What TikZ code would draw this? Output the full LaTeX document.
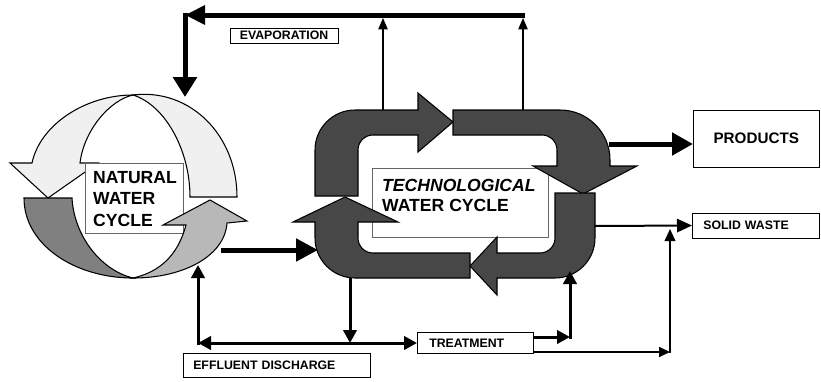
\documentclass[tikz,border=0pt]{standalone}
\usepackage{fontspec}
\setmainfont{Liberation Sans}
\usetikzlibrary{arrows.meta}

\begin{document}
\begin{tikzpicture}[yscale=-1, x=0.3mm, y=0.3mm,
  lbl/.style={draw, fill=white, line width=0.5pt, inner sep=0pt, font=\fontsize{10.5}{12}\selectfont\bfseries},
  cycletxt/.style={anchor=west, align=left, inner sep=0pt, font=\fontsize{15}{18.5}\selectfont\bfseries},
  textframe/.style={fill=white, draw=black!60, line width=0.5pt},
  band/.style={draw=black, line width=0.9pt},
  heavy/.style={line width=1.5mm},
  midline/.style={line width=0.9mm},
  hair/.style={line width=0.35mm},
  midtip/.style={-{Triangle[length=3.9mm,width=4mm]}},
  smalltip/.style={-{Triangle[length=3.4mm,width=2.8mm]}}]
\useasboundingbox (0,0) rectangle (821,381);

% natural water cycle
\draw[band, fill=black!6] (32,163) .. controls (40,125) and (85,95) .. (133,95)
  .. controls (110,100) and (84,130) .. (80,163) -- (98,163) -- (48,198) -- (10,163) -- cycle;
\draw[band, fill=black!6] (133,95) .. controls (190,88) and (237,135) .. (237,197)
  -- (190,197) .. controls (190,150) and (165,105) .. (133,95) -- cycle;
\draw[band, fill=black!50] (24,198) .. controls (24,245) and (75,278) .. (133,278)
  .. controls (100,270) and (74,235) .. (72,198) -- cycle;
\draw[textframe] (85,163) rectangle (183,233);
\node[cycletxt] (nat) at (93,199) {NATURAL\\WATER\\CYCLE};
\draw[band, fill=black!28] (133,278) .. controls (185,278) and (225,255) .. (227,223)
  -- (247,221) -- (210,200) -- (163,225) -- (186,225)
  .. controls (178,255) and (160,272) .. (133,278) -- cycle;

% technological water cycle
\draw[textframe] (372,168) rectangle (548,237);
\node[cycletxt, font=\fontsize{15}{17}\selectfont\bfseries] (tech) at (382,195) {\textit{TECHNOLOGICAL}\\WATER CYCLE};
\draw[band, fill=black!72] (315,196) -- (315,150) arc[start angle=180, end angle=270, radius=12mm]
  -- (418,110) -- (418,93) -- (453,122) -- (418,152) -- (418,135) -- (373,135)
  arc[start angle=270, end angle=180, radius=4.5mm] -- (358,196) -- cycle;
\draw[band, fill=black!72] (453,110) -- (560,110) arc[start angle=270, end angle=360, radius=15mm]
  -- (610,166) -- (637,166) -- (583,194) -- (533,166) -- (557,166) -- (557,150)
  arc[start angle=0, end angle=-90, radius=4.5mm] -- (453,135) -- cycle;
\draw[band, fill=black!72] (555,193) -- (595,193) -- (595,238) arc[start angle=0, end angle=90, radius=12mm]
  -- (497,278) -- (497,295) -- (470,266) -- (497,237) -- (497,253) -- (540,253)
  arc[start angle=90, end angle=0, radius=4.5mm] -- cycle;
\draw[band, fill=black!72] (470,278) -- (355,278) arc[start angle=90, end angle=180, radius=12mm]
  -- (315,222) -- (293,222) -- (345,197) -- (398,222) -- (358,222) -- (358,238)
  arc[start angle=180, end angle=90, radius=4.5mm] -- (470,253) -- cycle;

% boxes
\node[lbl, minimum width=32.4mm, minimum height=4.5mm] (evap) at (284,35.5) {EVAPORATION};
\node[lbl, anchor=west, minimum height=7.2mm, text width=50mm, inner xsep=3mm, align=left] (effl) at (183,365) {EFFLUENT DISCHARGE};
\node[lbl, anchor=west, minimum height=6.3mm, text width=27.6mm, inner xsep=3.6mm, align=left] (treat) at (417,343) {TREATMENT};
\node[lbl, anchor=west, minimum height=7.5mm, text width=31.5mm, inner xsep=3.3mm, align=left] (solid) at (692,225.5) {SOLID WASTE};
\node[lbl, anchor=west, minimum width=37.8mm, minimum height=17.1mm, font=\fontsize{13}{15}\selectfont\bfseries] (prod) at (693,138.5) {PRODUCTS};

\coordinate (evapL) at (185,15);
\coordinate (evapR) at (525,15);
\coordinate (natIn) at (185,97);
\coordinate (techUp1) at (383,110);
\coordinate (techUp2) at (523,110);
\coordinate (evap1) at (383,18);
\coordinate (evap2) at (523,18);
\coordinate (natOut) at (221,250);
\coordinate (techIn) at (318,250);
\coordinate (techOut) at (609,144);
\coordinate (techWaste) at (595,226);
\coordinate (natBack) at (198,265);
\coordinate (effCorner) at (198,343);
\coordinate (techDown) at (350,278);
\coordinate (effJoin) at (350,343);
\coordinate (treatA) at (533,337);
\coordinate (retJ) at (570,337);
\coordinate (techRet) at (570,271);
\coordinate (treatB) at (533,352);
\coordinate (wasteJ) at (670,352);
\coordinate (wasteUp) at (670,229);

% evaporation
\draw[hair, smalltip] (techUp1) -- (evap1);
\draw[hair, smalltip] (techUp2) -- (evap2);
\draw[heavy, -{Triangle[length=6mm,width=5.5mm]}] (evapR) -- (evapL);
\draw[heavy, line cap=rect, -{Triangle[length=6mm,width=7mm]}] (evapL) -- (natIn);

\draw[heavy, -{Triangle[length=6.6mm,width=6.6mm]}] (natOut) -- (techIn);
\draw[heavy, -{Triangle[length=6.3mm,width=6.6mm]}] (techOut) -- (techOut -| prod.west);
\draw[line width=0.6mm, -{Triangle[length=4.5mm,width=4mm]}] (techWaste) -- (solid.west);

% effluent and treatment
\draw[midline, midtip, line cap=rect] (effCorner) -- (natBack);
\draw[midline, {Triangle[length=3.9mm,width=4mm]}-{Triangle[length=3.9mm,width=4mm]}] (effCorner) -- (treat.west);
\draw[midline, midtip] (techDown) -- (effJoin);
\draw[midline, midtip] (treatA) -- (retJ);
\draw[midline, midtip, line cap=rect] (retJ) -- (techRet);
\draw[line width=0.5mm, -{Triangle[length=3.3mm,width=3mm]}] (treatB) -- (wasteJ);
\draw[line width=0.5mm, line cap=rect, -{Triangle[length=3.6mm,width=3.2mm]}] (wasteJ) -- (wasteUp);
\end{tikzpicture}
\end{document}
